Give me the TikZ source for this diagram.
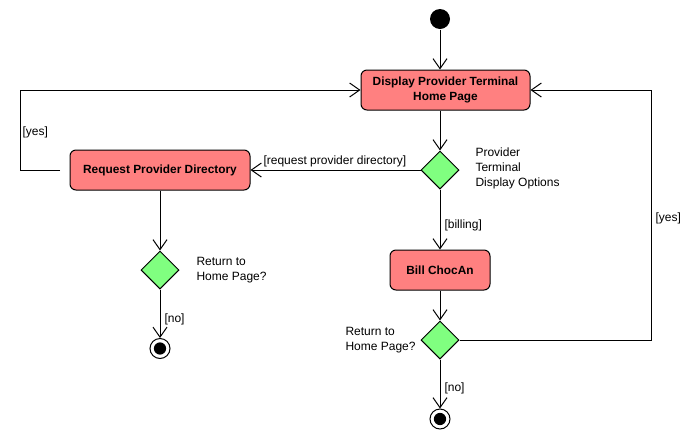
\documentclass[tikz,border=0pt]{standalone}
\usepackage{fontspec}
\setmainfont{Liberation Sans}
\usetikzlibrary{shapes.geometric, arrows.meta, positioning}

\definecolor{actfill}{HTML}{FF8080}
\definecolor{decfill}{HTML}{80FF80}

\tikzset{
  action/.style={draw, fill=actfill, rounded corners=4.5pt, font=\fontsize{8.9}{11.7}\selectfont\bfseries, align=center, minimum height=30pt, inner sep=0pt},
  decision/.style={draw, fill=decfill, diamond, minimum size=28.5pt, inner sep=0pt},
  initstate/.style={circle, fill=black, minimum size=15pt, inner sep=0pt},
  finalstate/.style={circle, draw, fill=white, minimum size=15pt, inner sep=0pt,
    path picture={\fill[black] (path picture bounding box.center) circle (4.6pt);}},
  lbl/.style={inner sep=0pt, align=left},
  flow/.style={-{Straight Barb[length=7.5pt, width=10.5pt]}}
}

\begin{document}
\begin{tikzpicture}[x=0.75pt, y=-0.75pt, line width=0.75pt,
  every node/.style={font=\fontsize{9}{11.25}\selectfont}]
\useasboundingbox (0,0) rectangle (700,440);

% states
\node[initstate] (start) at (440,19) {};
\node[action, minimum width=126.75pt] (disp) at (445.5,90) {Display Provider Terminal\\Home Page};
\node[decision] (dec1) at (440,170) {};
\node[action, minimum width=135pt] (req) at (160,170) {Request Provider Directory};
\node[action, minimum width=75pt] (bill) at (440,270) {Bill ChocAn};
\node[decision] (dec2) at (440,340) {};
\node[finalstate] (end2) at (440,419) {};
\node[decision] (dec3) at (160,270) {};
\node[finalstate] (end3) at (160,348.5) {};

\coordinate (reqgap) at (60,170);
\coordinate (lcorner) at (20,90);
\coordinate (rcorner) at (651,90);

% labels
\node[lbl, anchor=west] (optlbl) at (475,168) {Provider\\Terminal\\Display Options};
\node[lbl, anchor=west] (ret2lbl) at (345,340) {Return to\\Home Page?};
\node[lbl, anchor=west] (ret3lbl) at (196,270) {Return to\\Home Page?};
\node[lbl, anchor=west] (reqlbl) at (263,161) {[request provider directory]};
\node[lbl, anchor=west] (billlbl) at (444,225) {[billing]};
\node[lbl, anchor=west] (yeslbl) at (22,132) {[yes]};
\node[lbl, anchor=west] (yesrlbl) at (655,218) {[yes]};
\node[lbl, anchor=west] (no2lbl) at (444,388) {[no]};
\node[lbl, anchor=west] (no3lbl) at (164,319) {[no]};

% transitions
\draw[flow] (start) -- (start |- disp.north);
\draw[flow] (disp.south -| dec1) -- (dec1);
\draw[flow] (dec1) -- (req);
\draw[flow] (dec1) -- (bill);
\draw[flow] (bill) -- (dec2);
\draw[flow] (dec2) -- (end2);
\draw[flow] (dec2.east) -| (rcorner) -- (disp.east);
\draw[flow] (reqgap) -| (lcorner) -- (disp.west);
\draw[flow] (req) -- (dec3);
\draw[flow] (dec3) -- (end3);
\end{tikzpicture}
\end{document}
